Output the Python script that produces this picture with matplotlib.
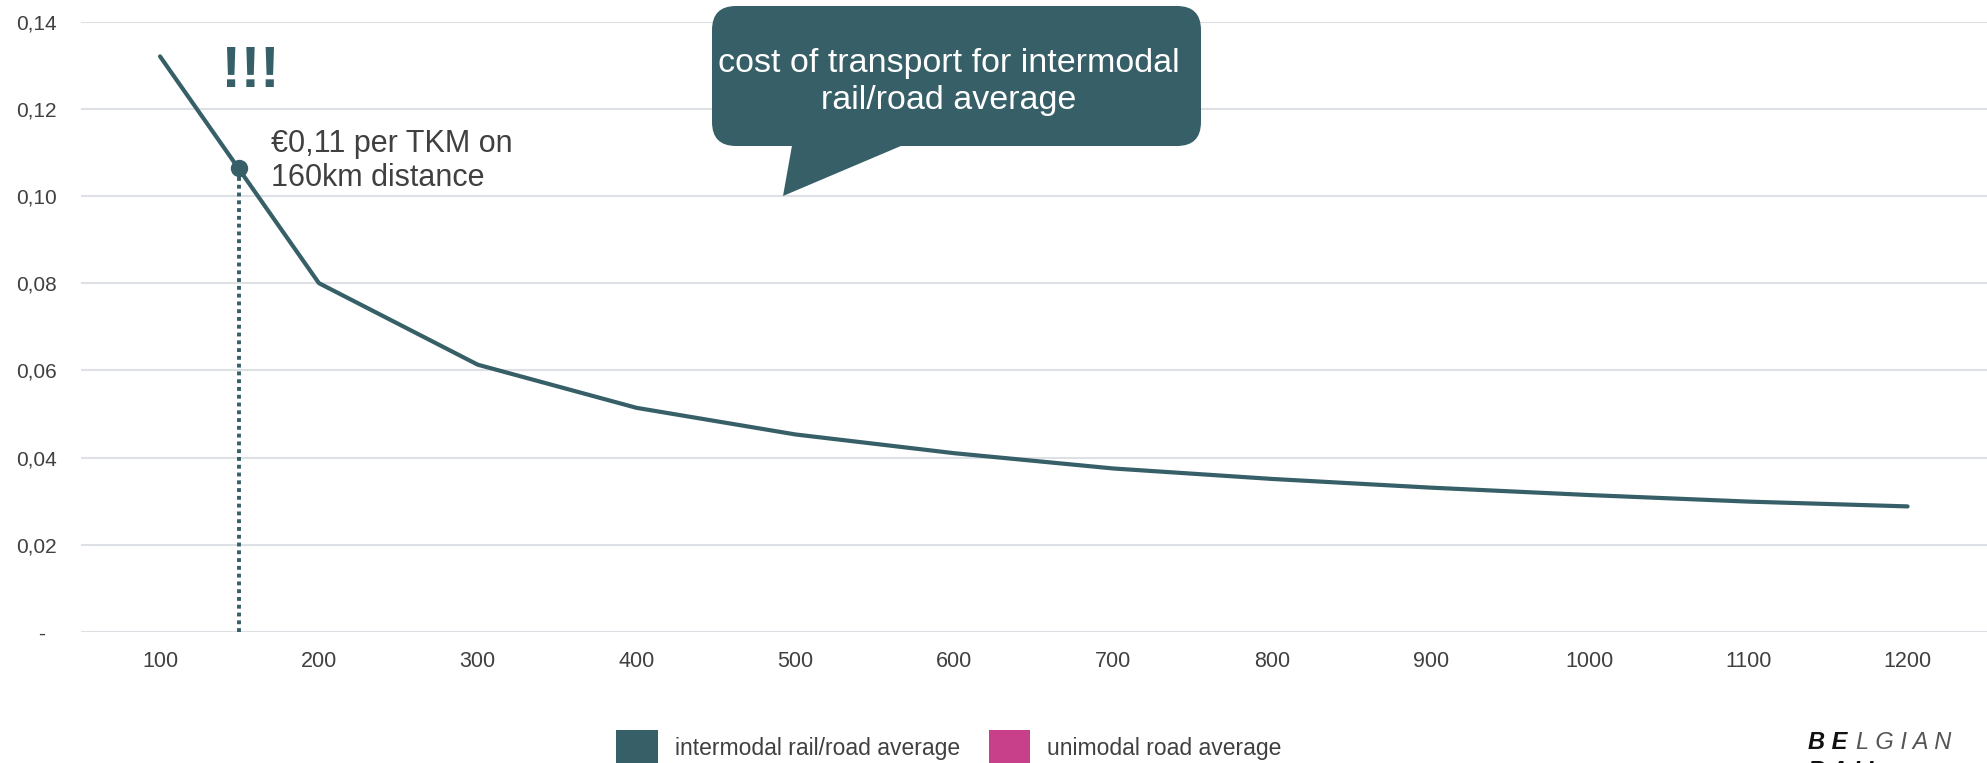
import matplotlib
matplotlib.use("Agg")
import matplotlib.pyplot as plt
from matplotlib.patches import FancyBboxPatch, Polygon, Patch, PathPatch
from matplotlib.textpath import TextPath
from matplotlib.font_manager import FontProperties
from matplotlib.transforms import Affine2D

# data
distances = [100, 200, 300, 400, 500, 600, 700, 800, 900, 1000, 1100, 1200]
intermodal_cost = [0.132, 0.080, 0.0613, 0.0514, 0.0453, 0.0410,
                   0.0375, 0.0351, 0.0331, 0.0314, 0.0299, 0.0288]
highlight_km = 150
highlight_cost = 0.1063
y_ticks = [0, 0.02, 0.04, 0.06, 0.08, 0.10, 0.12, 0.14]
y_tick_labels = ['-  ', '0,02', '0,04', '0,06', '0,08', '0,10', '0,12', '0,14']
legend_labels = ['intermodal rail/road average', 'unimodal road average']

TEAL = '#365F67'
PINK = '#C8408A'
TEXT = '#404040'
GRID = '#DDE1E6'

plt.rcParams['font.family'] = ['Liberation Sans', 'DejaVu Sans']

W, H = 1987, 763
fig = plt.figure(figsize=(W / 100, H / 100), dpi=100)
ax = fig.add_axes([80.6 / W, 1 - 632 / H, (W - 80.6) / W, (632 - 21.5) / H])

ax.plot(distances, intermodal_cost, color=TEAL, lw=3.0, solid_capstyle='round',
        solid_joinstyle='round', zorder=3)
ax.plot([highlight_km, highlight_km], [0, highlight_cost], color=TEAL, lw=2.8,
        linestyle=(0, (1, 1)), zorder=3)
ax.plot(highlight_km, highlight_cost, 'o', color=TEAL, ms=11.5, zorder=4)

ax.set_xlim(50, 1250)
ax.set_ylim(0, 0.14)
ax.set_xticks(distances)
ax.set_xticklabels([str(d) for d in distances])
ax.set_yticks(y_ticks)
ax.set_yticklabels(y_tick_labels)
ax.tick_params(axis='both', length=0, colors=TEXT)
ax.tick_params(axis='y', pad=17, labelsize=15)
ax.tick_params(axis='x', pad=14, labelsize=15.5)
ax.grid(axis='y', color=GRID, lw=1.5)
ax.set_axisbelow(True)
for s in ax.spines.values():
    s.set_visible(False)

# overlay in figure pixels (origin top-left) for call-outs and logo
ov = fig.add_axes([0, 0, 1, 1])
ov.set_xlim(0, W)
ov.set_ylim(H, 0)
ov.axis('off')

# condensed bold "!!!" : squeeze a text path into its box
bang = TextPath((0, 0), '!!!', size=1,
                prop=FontProperties(family='Liberation Sans', weight='bold'))
bb = bang.get_extents()
box_l, box_r, box_t, box_b = 227, 274, 47, 87
tr = (Affine2D().translate(-bb.x0, -bb.y0)
      .scale((box_r - box_l) / bb.width, -(box_b - box_t) / bb.height)
      .translate(box_l, box_b))
ov.add_patch(PathPatch(tr.transform_path(bang), fc=TEAL, ec='none'))

ov.text(271, 161, '€0,11 per TKM on\n160km distance', fontsize=22, color=TEXT,
        ha='left', va='center', linespacing=1.2)

ov.add_patch(FancyBboxPatch((712, 6), 489, 140,
                            boxstyle='round,pad=0,rounding_size=24',
                            fc=TEAL, ec='none'))
ov.add_patch(Polygon([[793, 140], [915, 140], [783, 196]], closed=True,
                     fc=TEAL, ec='none'))
ov.text(949, 82, 'cost of transport for intermodal\nrail/road average', fontsize=24.5,
        color='white', ha='center', va='center', linespacing=1.25)

# logo, cropped at the figure edge
ov.text(1808, 749, 'B E', fontsize=17, fontweight='bold', style='italic',
        color='#111111', ha='left', va='baseline')
ov.text(1856, 749, 'L G I A N', fontsize=17, fontweight='light', style='italic',
        color='#555555', ha='left', va='baseline')
ov.text(1808, 778, 'R A I L', fontsize=17, fontweight='bold', style='italic',
        color='#111111', ha='left', va='baseline', clip_on=False)

handles = [Patch(fc=TEAL, ec='none'), Patch(fc=PINK, ec='none')]
fig.legend(handles, legend_labels, loc='center', bbox_to_anchor=(949 / W, 1 - 748 / H),
           ncol=2, frameon=False, fontsize=16.5, labelcolor=TEXT,
           handlelength=1.8, handleheight=2.05, handletextpad=0.75, columnspacing=1.25)

fig.savefig('out.png', dpi=100)
